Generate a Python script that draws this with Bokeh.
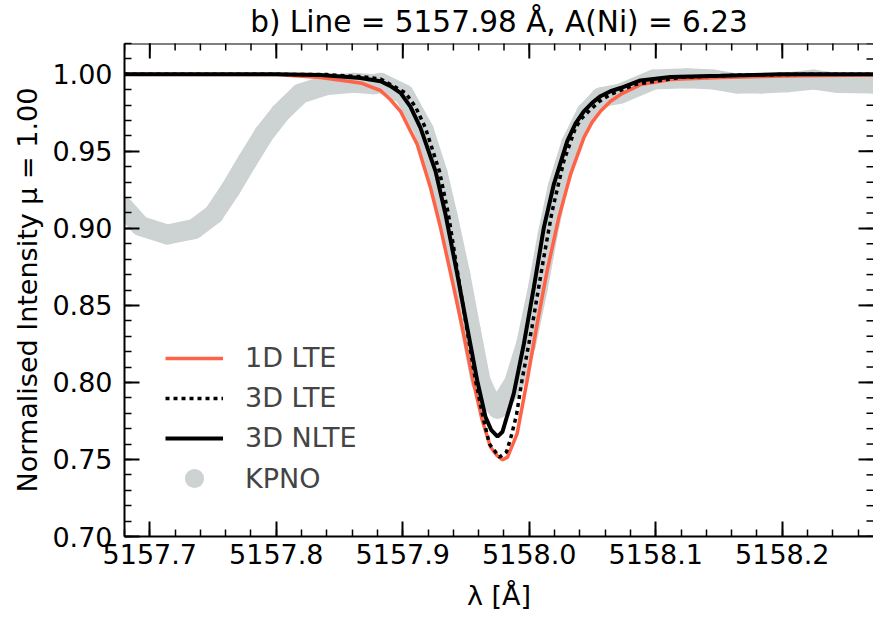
import math
from bokeh.plotting import figure
from bokeh.models import (Range1d, FixedTicker, NumeralTickFormatter, Span,
                          Legend, LegendItem)
from bokeh.embed import file_html
from bokeh.resources import INLINE

# --- profiles of the Ni I 5157.98 Å line (wavelength in Å, normalised intensity) ---
wl_1d_lte = [5157.6800, 5157.8000, 5157.8350, 5157.8666, 5157.8824, 5157.8903, 5157.8982,
             5157.9114, 5157.9219, 5157.9298, 5157.9391, 5157.9470, 5157.9549, 5157.9628,
             5157.9693, 5157.9745, 5157.9790, 5157.9828, 5157.9904, 5157.9983, 5158.0062,
             5158.0141, 5158.0233, 5158.0326, 5158.0431, 5158.0497, 5158.0563, 5158.0642,
             5158.0721, 5158.0879, 5158.1116, 5158.1512, 5158.2144, 5158.2721]
int_1d_lte = [1.0000, 0.9998, 0.9980, 0.9944, 0.9895, 0.9835, 0.9760,
              0.9545, 0.9264, 0.9005, 0.8660, 0.8358, 0.8034, 0.7754,
              0.7581, 0.7525, 0.7498, 0.7515, 0.7668, 0.8013, 0.8380,
              0.8725, 0.9070, 0.9350, 0.9588, 0.9690, 0.9760, 0.9825,
              0.9869, 0.9933, 0.9966, 0.9980, 0.9990, 0.9995]

wl_3d_lte = [5157.6800, 5157.8000, 5157.8400, 5157.8666, 5157.8824, 5157.9021, 5157.9100,
             5157.9179, 5157.9290, 5157.9361, 5157.9435, 5157.9504, 5157.9575, 5157.9634,
             5157.9685, 5157.9764, 5157.9820, 5157.9859, 5157.9899, 5157.9942, 5158.0021,
             5158.0110, 5158.0181, 5158.0273, 5158.0365, 5158.0415, 5158.0470, 5158.0555,
             5158.0642, 5158.0840, 5158.1195, 5158.1670, 5158.2144, 5158.2721]
int_3d_lte = [1.0000, 1.0000, 0.9998, 0.9985, 0.9970, 0.9880, 0.9790,
              0.9652, 0.9370, 0.9090, 0.8704, 0.8358, 0.8013, 0.7775,
              0.7600, 0.7515, 0.7549, 0.7657, 0.7790, 0.8013, 0.8358,
              0.8790, 0.9113, 0.9437, 0.9652, 0.9715, 0.9760, 0.9825,
              0.9869, 0.9935, 0.9980, 0.9995, 1.0000, 1.0000]

wl_3d_nlte = [5157.6800, 5157.8000, 5157.8350, 5157.8666, 5157.8824, 5157.8900, 5157.8982,
              5157.9060, 5157.9140, 5157.9259, 5157.9338, 5157.9430, 5157.9509, 5157.9588,
              5157.9654, 5157.9700, 5157.9749, 5157.9788, 5157.9877, 5157.9957, 5158.0036,
              5158.0115, 5158.0194, 5158.0300, 5158.0365, 5158.0431, 5158.0497, 5158.0563,
              5158.0642, 5158.0721, 5158.0879, 5158.1116, 5158.1512, 5158.1986, 5158.2721]
int_3d_nlte = [1.0000, 1.0000, 0.9995, 0.9976, 0.9955, 0.9925, 0.9880,
               0.9790, 0.9652, 0.9370, 0.9090, 0.8704, 0.8358, 0.8013,
               0.7775, 0.7690, 0.7648, 0.7680, 0.7927, 0.8250, 0.8617,
               0.9005, 0.9286, 0.9566, 0.9680, 0.9760, 0.9815, 0.9858,
               0.9890, 0.9911, 0.9960, 0.9983, 0.9990, 1.0000, 1.0000]

# observed solar disc-centre atlas
wl_kpno = [5157.6795, 5157.6926, 5157.7138, 5157.7348, 5157.7506, 5157.7638, 5157.7770,
           5157.7900, 5157.8033, 5157.8191, 5157.8400, 5157.8613, 5157.8770, 5157.8824,
           5157.9010, 5157.9165, 5157.9275, 5157.9355, 5157.9455, 5157.9535, 5157.9615,
           5157.9670, 5157.9750, 5157.9820, 5157.9880, 5157.9975, 5158.0065, 5158.0145,
           5158.0225, 5158.0330, 5158.0450, 5158.0565, 5158.0721, 5158.0984, 5158.1248,
           5158.1459, 5158.1644, 5158.1828, 5158.2039, 5158.2249, 5158.2434, 5158.2721]
int_kpno = [0.9135, 0.9016, 0.8960, 0.8995, 0.9092, 0.9254, 0.9437,
            0.9610, 0.9750, 0.9875, 0.9930, 0.9945, 0.9935, 0.9945,
            0.9870, 0.9640, 0.9360, 0.9080, 0.8700, 0.8350, 0.8010,
            0.7910, 0.7830, 0.7920, 0.8000, 0.8250, 0.8600, 0.8960,
            0.9270, 0.9550, 0.9750, 0.9850, 0.9875, 0.9966, 0.9974,
            0.9966, 0.9940, 0.9940, 0.9948, 0.9966, 0.9944, 0.9940]

series_labels = ["1D LTE", "3D LTE", "3D NLTE", "KPNO"]

x_lo, x_hi = 5157.68, 5158.2721
y_lo, y_hi = 0.70, 1.02
x_ticks = [5157.7, 5157.8, 5157.9, 5158.0, 5158.1, 5158.2]
x_tick_labels = ["5157.7", "5157.8", "5157.9", "5158.0", "5158.1", "5158.2"]
x_minor = [round(5157.68 + 0.02 * k, 2) for k in range(30)]
y_ticks = [0.70, 0.75, 0.80, 0.85, 0.90, 0.95, 1.00]
y_tick_labels = ["0.70", "0.75", "0.80", "0.85", "0.90", "0.95", "1.00"]
y_minor = [round(0.70 + 0.01 * k, 2) for k in range(33)]

FONT = "DejaVu Sans"
FS = "27px"
TOMATO = "#ff6347"
GREY = "#cdd2d2"

p = figure(width=873, height=619,
           x_range=Range1d(x_lo, x_hi), y_range=Range1d(y_lo, y_hi),
           output_backend="svg", toolbar_location=None,
           min_border_left=124, min_border_right=0, min_border_top=43, min_border_bottom=83,
           title="b) Line = 5157.98 Å, A(Ni) = 6.23",
           x_axis_label="λ [Å]", y_axis_label="Normalised Intensity μ = 1.00")
p.outline_line_color = None
p.grid.visible = False
p.background_fill_color = "white"
p.border_fill_color = "white"

p.title.align = "center"
p.title.vertical_align = "top"
p.title.text_font = FONT
p.title.text_font_size = "29.5px"
p.title.text_font_style = "normal"
p.title.text_color = "black"
p.title.standoff = 6

xax = p.below[0]
yax = p.left[0]
xax.ticker = FixedTicker(ticks=x_ticks, minor_ticks=x_minor)
yax.ticker = FixedTicker(ticks=y_ticks, minor_ticks=y_minor)
xax.formatter = NumeralTickFormatter(format="0.0")
yax.formatter = NumeralTickFormatter(format="0.00")
xax.major_label_overrides = dict(zip(x_ticks, x_tick_labels))
yax.major_label_overrides = dict(zip(y_ticks, y_tick_labels))

for ax in [xax, yax]:
    ax.axis_line_width = 2
    ax.axis_line_color = "black"
    ax.major_tick_in = 15
    ax.major_tick_out = 0
    ax.minor_tick_in = 7
    ax.minor_tick_out = 0
    ax.major_tick_line_width = 2
    ax.minor_tick_line_width = 1.5
    ax.major_tick_line_color = "black"
    ax.minor_tick_line_color = "black"
    ax.major_label_text_font = FONT
    ax.major_label_text_font_size = FS
    ax.major_label_text_color = "black"
    ax.axis_label_text_font = FONT
    ax.axis_label_text_font_size = FS
    ax.axis_label_text_font_style = "normal"
    ax.axis_label_text_color = "black"

xax.major_label_standoff = 7
xax.axis_label_standoff = 13
yax.major_label_standoff = 12
yax.axis_label_standoff = 6

# top spine
p.add_layout(Span(location=y_hi, dimension="width", line_color="black", line_width=2))

# inward ticks on the top and right edges: dashes centred on the edge, half clipped by the frame
p.scatter(x_ticks, [y_hi] * len(x_ticks), marker="dash", size=30, angle=math.pi / 2,
          line_color="black", line_width=2)
p.scatter(x_minor, [y_hi] * len(x_minor), marker="dash", size=14, angle=math.pi / 2,
          line_color="black", line_width=1.5)
p.scatter([x_hi] * len(y_ticks), y_ticks, marker="dash", size=30,
          line_color="black", line_width=2)
p.scatter([x_hi] * len(y_minor), y_minor, marker="dash", size=14,
          line_color="black", line_width=1.5)

# observed spectrum: a thick band of large markers
kp_band = p.line(wl_kpno, int_kpno, line_color=GREY, line_width=20,
                 line_join="round", line_cap="round")
kp_pts = p.scatter(wl_kpno, int_kpno, size=20, fill_color=GREY, line_color=None)

r1 = p.line(wl_1d_lte, int_1d_lte, line_color=TOMATO, line_width=3.5)
r3 = p.line(wl_3d_nlte, int_3d_nlte, line_color="black", line_width=4)
r2 = p.line(wl_3d_lte, int_3d_lte, line_color="black", line_width=3.5,
            line_dash="4 4")

legend_lines = Legend(items=[LegendItem(label=series_labels[0], renderers=[r1]),
                             LegendItem(label=series_labels[1], renderers=[r2]),
                             LegendItem(label=series_labels[2], renderers=[r3])],
                      location=(41, 83), orientation="vertical",
                      border_line_color=None, background_fill_alpha=0,
                      label_text_font=FONT, label_text_font_size=FS,
                      glyph_width=58, glyph_height=20, label_standoff=22,
                      label_height=20, spacing=9, padding=0, margin=0)
legend_obs = Legend(items=[LegendItem(label=series_labels[3], renderers=[kp_pts])],
                    location=(41, 34), orientation="vertical",
                    border_line_color=None, background_fill_alpha=0,
                    label_text_font=FONT, label_text_font_size=FS,
                    glyph_width=58, glyph_height=48, label_standoff=22,
                    label_height=20, spacing=0, padding=0, margin=0)
p.add_layout(legend_lines)
p.add_layout(legend_obs)

open("out.html", "w").write(file_html(p, INLINE))
